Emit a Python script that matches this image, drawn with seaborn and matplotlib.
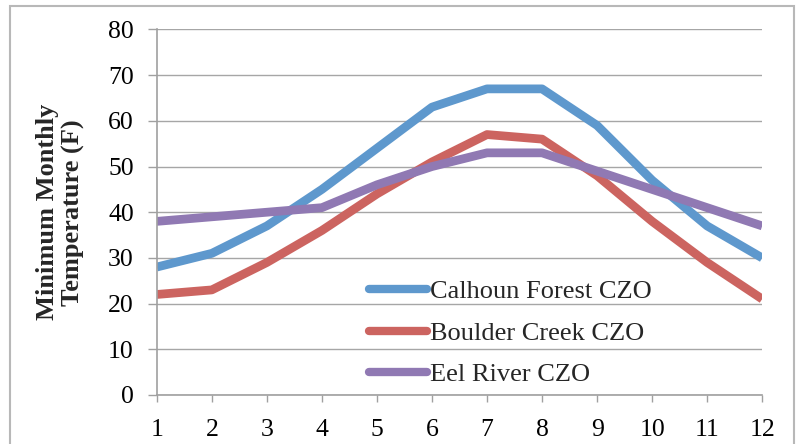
import matplotlib
matplotlib.use('Agg')
import matplotlib.pyplot as plt
import seaborn as sns
import pandas as pd
from matplotlib.patches import Rectangle

months = [1, 2, 3, 4, 5, 6, 7, 8, 9, 10, 11, 12]
calhoun = [28, 31, 37, 45, 54, 63, 67, 67, 59, 47, 37, 30]
boulder = [22, 23, 29, 36, 44, 51, 57, 56, 48, 38, 29, 21]
eel = [38, 39, 40, 41, 46, 50, 53, 53, 49, 45, 41, 37]
series_names = ["Calhoun Forest CZO", "Boulder Creek CZO", "Eel River CZO"]
colors = ["#5e98cd", "#cc6460", "#9079b3"]

df = pd.concat([
    pd.DataFrame({"Month": months, "Temp": vals, "Site": name})
    for name, vals in zip(series_names, [calhoun, boulder, eel])
])

sns.set_theme(style="white")
plt.rcParams['font.family'] = ['Liberation Serif', 'DejaVu Serif']

fig = plt.figure(figsize=(8.04, 4.44), dpi=100)
ax = fig.add_axes([0.195, 0.1104, 0.753, 0.8232])

sns.lineplot(data=df, x="Month", y="Temp", hue="Site", hue_order=series_names,
             palette=colors, linewidth=6.3, ax=ax, legend=True)
for ln in ax.get_lines():
    ln.set_solid_capstyle('butt')
    ln.set_solid_joinstyle('round')

ax.set_xlim(1, 12)
ax.set_ylim(0, 80)
ax.set_xticks(months)
ax.set_yticks(range(0, 81, 10))
ax.grid(axis='y', color='#a6a6a6', linewidth=1.0)
ax.set_axisbelow(True)
for side in ['top', 'right']:
    ax.spines[side].set_visible(False)
for side in ['left', 'bottom']:
    ax.spines[side].set_color('#a0a0a0')
    ax.spines[side].set_linewidth(1.2)
ax.tick_params(axis='y', left=True, length=6.5, width=1.0, color='#a0a0a0',
               pad=10, labelsize=18.5, labelcolor='black')
ax.tick_params(axis='x', bottom=True, length=5, width=1.0, color='#a0a0a0',
               pad=12, labelsize=18.5, labelcolor='black')
ax.set_xlabel("")
ax.set_ylabel("Minimum Monthly\nTemperature (F)", fontsize=19, fontweight='bold',
              labelpad=17, linespacing=1.1)

leg = ax.legend(loc='upper left', bbox_to_anchor=(369 / 804, 1 - 280 / 444),
                bbox_transform=fig.transFigure, frameon=False, fontsize=19,
                handlelength=2.2, handletextpad=0.1, labelspacing=0.68,
                borderpad=0, borderaxespad=0)
for h in leg.get_lines():
    h.set_linewidth(6)
    h.set_solid_capstyle('round')

fig.patches.append(Rectangle((10 / 804, -0.1), 784 / 804, 1 - 6 / 444 + 0.1,
                             transform=fig.transFigure, fill=False,
                             edgecolor='#b8b8b8', linewidth=1.5))

fig.savefig("out.png", dpi=100)
plt.close(fig)
